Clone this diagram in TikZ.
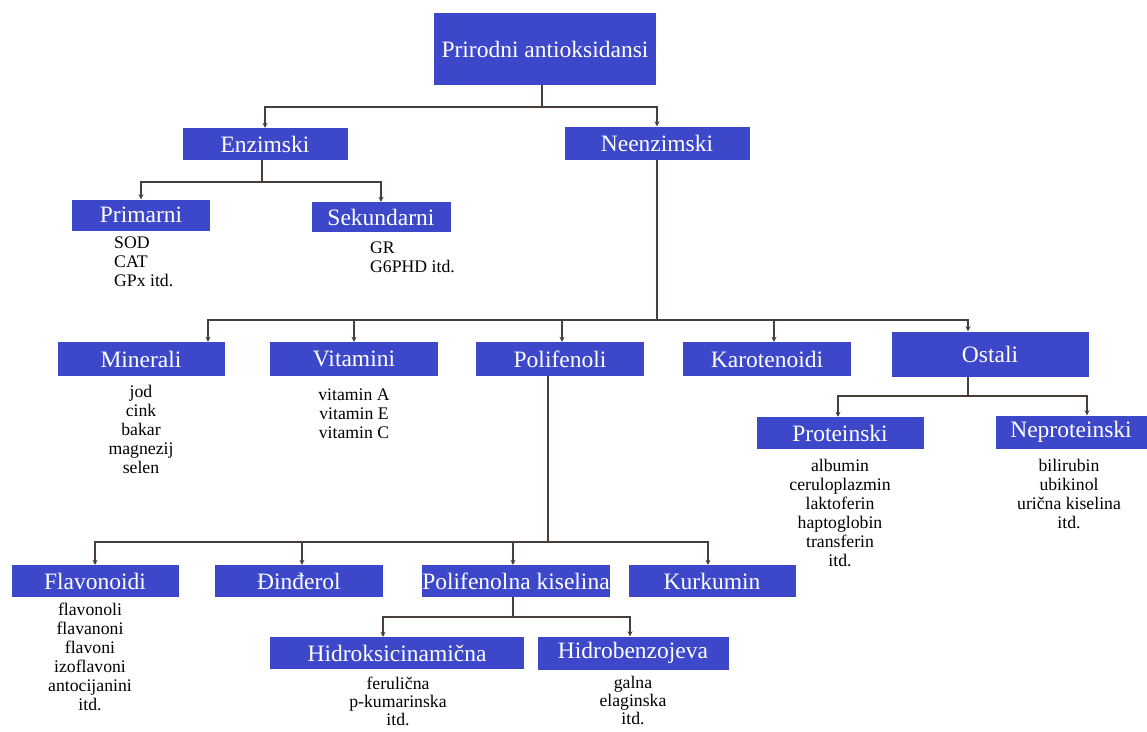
\documentclass[tikz,border=0pt]{standalone}
\usepackage{fontspec}
\setmainfont{Liberation Serif}
\usetikzlibrary{arrows.meta, calc}

\definecolor{boxblue}{RGB}{61,71,201}
\definecolor{linkgray}{RGB}{72,62,58}

\begin{document}
\begin{tikzpicture}[x=1pt, y=-1pt,
    group/.style={fill=boxblue, text=white, inner sep=0pt, minimum height=32pt,
        minimum width=167pt, font=\fontsize{23.5}{26}\selectfont},
    items/.style={inner sep=0pt, align=center, font=\fontsize{17.7}{19}\selectfont},
    link/.style={draw=linkgray, line width=2pt},
    tolink/.style={link, -{Stealth[length=5pt,width=5pt]}}]
    \useasboundingbox (0,0) rectangle (1147,731);

    % top levels
    \node[group, minimum width=222pt, minimum height=72pt] (root) at (545,49) {Prirodni antioksidansi};
    \node[group, minimum width=165pt] (enz) at (265,144) {Enzimski};
    \node[group, minimum width=185pt, minimum height=33pt] (neenz) at (657,143) {Neenzimski};
    \node[group, minimum width=138pt, minimum height=31pt] (prim) at (141,215) {Primarni};
    \node[group, minimum width=139pt, minimum height=30pt] (sek) at (381,217) {Sekundarni};

    % neenzimski groups
    \node[group, minimum height=34pt] (miner) at (141,359) {Minerali};
    \node[group, minimum width=168pt, minimum height=34pt] (vitam) at (354,359) {Vitamini};
    \node[group, minimum width=168pt, minimum height=34pt] (polif) at (560,359) {Polifenoli};
    \node[group, minimum width=168pt, minimum height=34pt] (karot) at (767,359) {Karotenoidi};
    \node[group, minimum width=197pt, minimum height=45pt] (ostal) at (990,354) {Ostali};
    \node[group] (prot) at (840,433) {Proteinski};
    \node[group, minimum width=151pt, minimum height=33pt] (nprot) at (1071,432) {Neproteinski};

    % polifenoli groups
    \node[group] (flav) at (95,581) {Flavonoidi};
    \node[group, minimum width=168pt] (dind) at (299,581) {Đinđerol};
    \node[group, minimum width=186pt] (pkis) at (516,581) {Polifenolna kiselina};
    \node[group] (kurk) at (712,581) {Kurkumin};
    \node[group, minimum width=254pt] (hcin) at (397,653) {Hidroksicinamična};
    \node[group, minimum width=191pt, minimum height=33pt] (hben) at (633,653) {Hidrobenzojeva};

    % lists
    \node[items, align=left, anchor=north west] (primlist) at (114,237) {SOD\\CAT\\GPx itd.};
    \node[items, align=left, anchor=north west] (seklist) at (370,242) {GR\\G6PHD itd.};
    \node[items, anchor=north] (minlist) at (141,385) {jod\\cink\\bakar\\magnezij\\selen};
    \node[items, anchor=north] (vitlist) at (354,389) {vitamin A\\vitamin E\\vitamin C};
    \node[items, anchor=north] (protlist) at (840,459) {albumin\\ceruloplazmin\\laktoferin\\haptoglobin\\transferin\\itd.};
    \node[items, anchor=north] (nprotlist) at (1069,459) {bilirubin\\ubikinol\\urična kiselina\\itd.};
    \node[items, anchor=north] (flavlist) at (90,603) {flavonoli\\flavanoni\\flavoni\\izoflavoni\\antocijanini\\itd.};
    \node[items, anchor=north, font=\fontsize{17.7}{18}\selectfont] (hcinlist) at (398,677) {ferulična\\p-kumarinska\\itd.};
    \node[items, anchor=north, font=\fontsize{17.7}{18}\selectfont] (hbenlist) at (633,676) {galna\\elaginska\\itd.};

    % connectors
    \draw[link] ([xshift=-3pt]root.south) -- ++(0,22) coordinate (r0);
    \draw[tolink] (r0) -| (enz.north);
    \draw[tolink] (r0) -| (neenz.north);

    \draw[link] ([xshift=-3pt]enz.south) -- ++(0,22) coordinate (e0);
    \draw[tolink] (e0) -| (prim.north);
    \draw[tolink] (e0) -| (sek.north);

    \draw[link] (neenz.south) -- ++(0,160) coordinate (n0);
    \draw[tolink] (n0) -| ([xshift=67pt]miner.north);
    \draw[tolink] (n0) -| (vitam.north);
    \draw[tolink] (n0) -| ([xshift=2pt]polif.north);
    \draw[tolink] (n0) -| ([xshift=7pt]karot.north);
    \draw[tolink] (n0) -| ([xshift=-22pt]ostal.north);

    \draw[link] ([xshift=-22pt]ostal.south) -- ++(0,19) coordinate (o0);
    \draw[tolink] (o0) -| ([xshift=-2pt]prot.north);
    \draw[tolink] (o0) -| ([xshift=16pt]nprot.north);

    \draw[link] ([xshift=-12pt]polif.south) -- ++(0,166) coordinate (p0);
    \draw[tolink] (p0) -| (flav.north);
    \draw[tolink] (p0) -| ([xshift=3pt]dind.north);
    \draw[tolink] (p0) -| ([xshift=-3pt]pkis.north);
    \draw[tolink] (p0) -| ([xshift=-4pt]kurk.north);

    \draw[link] ([xshift=-3pt]pkis.south) -- ++(0,20) coordinate (k0);
    \draw[tolink] (k0) -| ([xshift=-14pt]hcin.north);
    \draw[tolink] (k0) -| ([xshift=-3pt]hben.north);
\end{tikzpicture}
\end{document}
